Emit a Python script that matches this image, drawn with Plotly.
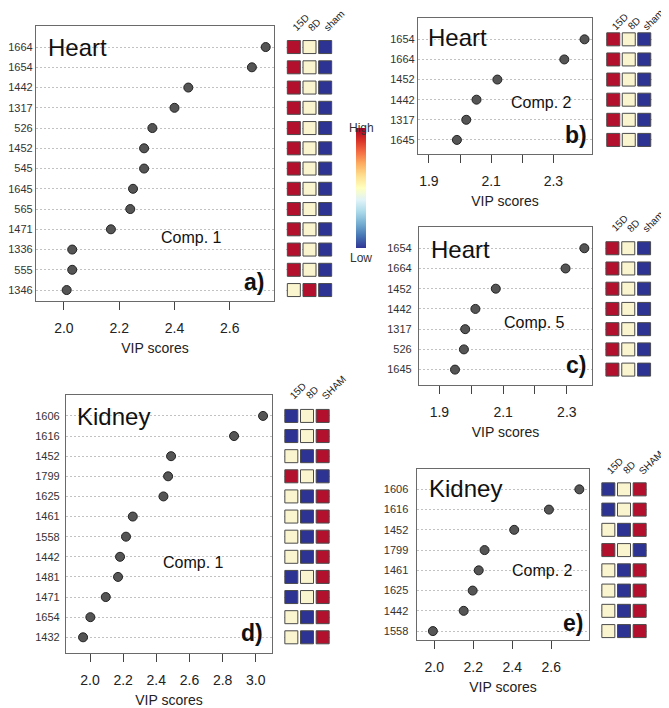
import plotly.graph_objects as go

W, H = 669, 708
OFF = 8                      # the page body adds an 8 px margin
FW, FH = W - OFF, H - OFF    # figure size that fits the window
FONT = "Liberation Sans, Arial, sans-serif"

# ---- data -------------------------------------------------------------
# a) Heart, Comp. 1
a_labels = ["1664", "1654", "1442", "1317", "526", "1452", "545", "1645",
            "565", "1471", "1336", "555", "1346"]
a_vip = [2.73, 2.68, 2.45, 2.40, 2.32, 2.29, 2.29, 2.25, 2.24, 2.17, 2.03, 2.03, 2.01]
a_heat = ["HML"] * 12 + ["MHL"]
a_groups = ["15D", "8D", "sham"]

# b) Heart, Comp. 2
b_labels = ["1654", "1664", "1452", "1442", "1317", "1645"]
b_vip = [2.40, 2.335, 2.12, 2.053, 2.02, 1.99]
b_heat = ["HML"] * 6
b_groups = ["15D", "8D", "sham"]

# c) Heart, Comp. 5
c_labels = ["1654", "1664", "1452", "1442", "1317", "526", "1645"]
c_vip = [2.355, 2.296, 2.077, 2.013, 1.981, 1.977, 1.949]
c_heat = ["HML"] * 7
c_groups = ["15D", "8D", "sham"]

# d) Kidney, Comp. 1
d_labels = ["1606", "1616", "1452", "1799", "1625", "1461", "1558", "1442",
            "1481", "1471", "1654", "1432"]
d_vip = [3.044, 2.869, 2.489, 2.471, 2.443, 2.258, 2.217, 2.181, 2.169, 2.095, 2.002, 1.958]
d_heat = ["LMH", "LMH", "MLH", "HML", "MLH", "MLH", "MLH", "MLH", "LMH", "LMH", "MLH", "MLH"]
d_groups = ["15D", "8D", "SHAM"]

# e) Kidney, Comp. 2
e_labels = ["1606", "1616", "1452", "1799", "1461", "1625", "1442", "1558"]
e_vip = [2.744, 2.588, 2.410, 2.258, 2.228, 2.197, 2.151, 1.993]
e_heat = ["LMH", "LMH", "MLH", "HML", "MLH", "MLH", "MLH", "MLH"]
e_groups = ["15D", "8D", "SHAM"]

ticks_a = [2.0, 2.2, 2.4, 2.6]
ticks_bc = [1.9, 2.0, 2.1, 2.2, 2.3]
ticktext_bc = ["1.9", "", "2.1", "", "2.3"]
ticks_d = [2.0, 2.2, 2.4, 2.6, 2.8, 3.0]
ticks_e = [2.0, 2.2, 2.4, 2.6]

level_colors = {"H": "#B3102E", "M": "#FAF4CF", "L": "#2C3393"}

# ---- layout spec (reference pixels) -----------------------------------
panels = [
    dict(labels=a_labels, vip=a_vip, heat=a_heat, groups=a_groups,
         box=(36, 274, 26, 301), xr=[1.899, 2.76], pad=(0.54, 1.04),
         tv=ticks_a, tt=[f"{v:.1f}" for v in ticks_a],
         hdom=(286, 333), hlab=36, organ="Heart", opos=(46, 47),
         comp="Comp. 1", cpos=(191, 238), tag="a)", tpos=(266, 282), stand=0),
    dict(labels=b_labels, vip=b_vip, heat=b_heat, groups=b_groups,
         box=(418, 592, 18, 154), xr=[1.865, 2.424], pad=(0.7, 1.06),
         tv=ticks_bc, tt=ticktext_bc,
         hdom=(605.5, 652), hlab=35, organ="Heart", opos=(426, 38),
         comp="Comp. 2", cpos=(541, 103), tag="b)", tpos=(589, 135), stand=0),
    dict(labels=c_labels, vip=c_vip, heat=c_heat, groups=c_groups,
         box=(419, 592, 227, 385), xr=[1.836, 2.379], pad=(0.76, 1.05),
         tv=ticks_bc, tt=ticktext_bc,
         hdom=(604.5, 652), hlab=237, organ="Heart", opos=(429, 250),
         comp="Comp. 5", cpos=(534, 322), tag="c)", tpos=(588, 365), stand=4),
    dict(labels=d_labels, vip=d_vip, heat=d_heat, groups=d_groups,
         box=(66, 272, 395, 653), xr=[1.855, 3.098], pad=(0.78, 1.04),
         tv=ticks_d, tt=[f"{v:.1f}" for v in ticks_d],
         hdom=(283.5, 330.5), hlab=404, organ="Kidney", opos=(75, 416),
         comp="Comp. 1", cpos=(194, 562), tag="d)", tpos=(265, 633), stand=3),
    dict(labels=e_labels, vip=e_vip, heat=e_heat, groups=e_groups,
         box=(416.7, 589.3, 469.3, 640), xr=[1.91, 2.795], pad=(0.44, 0.99),
         tv=ticks_e, tt=[f"{v:.1f}" for v in ticks_e],
         hdom=(600.5, 647.5), hlab=479, organ="Kidney", opos=(427, 488),
         comp="Comp. 2", cpos=(542, 570), tag="e)", tpos=(585, 623), stand=5),
]


def fx(p):
    return (p - OFF) / FW


def fy(p):
    return 1 - (p - OFF) / FH


fig = go.Figure()
layout = {}
annotations = []

for k, p in enumerate(panels, start=1):
    xm, xh = 2 * k - 1, 2 * k
    xm_name = "xaxis" if xm == 1 else f"xaxis{xm}"
    ym_name = "yaxis" if k == 1 else f"yaxis{k}"
    xm_ref = "x" if xm == 1 else f"x{xm}"
    y_ref = "y" if k == 1 else f"y{k}"
    x0, x1, y0, y1 = p["box"]
    n = len(p["labels"])

    fig.add_trace(go.Scatter(
        x=p["vip"], y=p["labels"], xaxis=xm_ref, yaxis=y_ref, mode="markers",
        marker=dict(size=9, color="#555555", line=dict(color="#222222", width=1)),
        showlegend=False, hoverinfo="x+y"))

    for j, g in enumerate(p["groups"]):
        fig.add_trace(go.Scatter(
            x=[g] * n, y=p["labels"], xaxis=f"x{xh}", yaxis=y_ref, mode="markers",
            marker=dict(symbol="square", size=13,
                        color=[level_colors[h[j]] for h in p["heat"]],
                        line=dict(color="#4a4a4a", width=1)),
            showlegend=False, hoverinfo="x+y"))
        # rotated group label above each column of squares
        annotations.append(dict(
            text=g, x=g, xref=f"x{xh}", y=fy(p["hlab"]), yref="paper",
            xanchor="left", yanchor="bottom", xshift=-6, textangle=-45,
            showarrow=False, font=dict(family=FONT, size=10, color="#222")))

    layout[xm_name] = dict(
        domain=[fx(x0), fx(x1)], anchor=y_ref, range=p["xr"],
        tickvals=p["tv"], ticktext=p["tt"], ticks="outside", ticklen=8,
        tickcolor="#444", tickwidth=1, ticklabelstandoff=6,
        tickfont=dict(family=FONT, size=14, color="#222"),
        showline=True, mirror=True, linecolor="#6a6a6a", linewidth=1.3,
        showgrid=False, zeroline=False, automargin=False,
        title=dict(text="VIP scores", standoff=8,
                   font=dict(family=FONT, size=14, color="#222")))
    layout[f"xaxis{xh}"] = dict(
        domain=[fx(p["hdom"][0]), fx(p["hdom"][1])], anchor=y_ref,
        type="category", categoryarray=p["groups"], range=[-0.5, 2.5],
        showticklabels=False, ticks="", showline=False, showgrid=False,
        zeroline=False, automargin=False)
    layout[ym_name] = dict(
        domain=[fy(y1), fy(y0)], anchor=xm_ref, type="category",
        categoryarray=p["labels"][::-1],
        range=[-p["pad"][0], n - 1 + p["pad"][1]],
        ticks="", ticklabelstandoff=p["stand"],
        tickfont=dict(family=FONT, size=11, color="#333"),
        showline=True, mirror=True, linecolor="#6a6a6a", linewidth=1.3,
        showgrid=True, gridcolor="#c2c2c2", griddash="2px,2px", gridwidth=1,
        zeroline=False, automargin=False)

    annotations.append(dict(
        text=p["organ"], x=fx(p["opos"][0]), y=fy(p["opos"][1]), xref="paper",
        yref="paper", xanchor="left", yanchor="middle", showarrow=False,
        font=dict(family=FONT, size=24, color="#111")))
    annotations.append(dict(
        text=p["comp"], x=fx(p["cpos"][0]), y=fy(p["cpos"][1]), xref="paper",
        yref="paper", xanchor="center", yanchor="middle", showarrow=False,
        font=dict(family=FONT, size=16, color="#111")))
    annotations.append(dict(
        text=f"<b>{p['tag']}</b>", x=fx(p["tpos"][0]), y=fy(p["tpos"][1]),
        xref="paper", yref="paper", xanchor="right", yanchor="middle",
        showarrow=False, font=dict(family=FONT, size=23, color="#111")))

# colour key
fig.add_trace(go.Scatter(
    x=[None], y=[None], mode="markers", showlegend=False, hoverinfo="skip",
    marker=dict(color=[0.5], cmin=0, cmax=1, colorscale="RdYlBu_r", showscale=True,
                colorbar=dict(x=fx(356), xanchor="left", xpad=0, thickness=10,
                              len=120 / FH, y=fy(188), yanchor="middle", ypad=0,
                              showticklabels=False, ticks="", outlinewidth=0))))
annotations.append(dict(text="High", x=fx(361), y=fy(119), xref="paper", yref="paper",
                        showarrow=False, font=dict(family=FONT, size=12, color="#333")))
annotations.append(dict(text="Low", x=fx(361), y=fy(258), xref="paper", yref="paper",
                        showarrow=False, font=dict(family=FONT, size=12, color="#333")))

fig.update_layout(
    width=FW, height=FH, autosize=False, margin=dict(l=0, r=0, t=0, b=0),
    paper_bgcolor="white", plot_bgcolor="white",
    font=dict(family=FONT), annotations=annotations, **layout)

fig.write_html("out.html")
